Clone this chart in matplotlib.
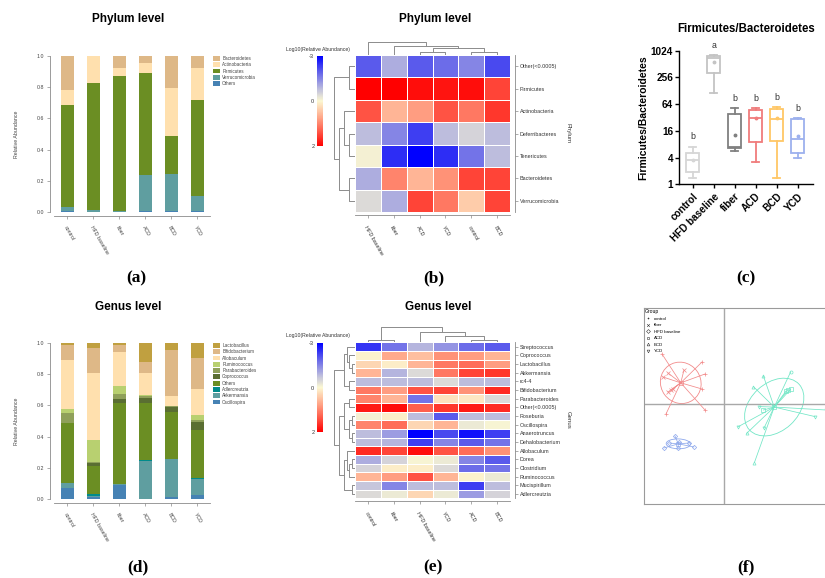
import matplotlib
matplotlib.use('Agg')
import matplotlib.pyplot as plt
import numpy as np
from matplotlib.colors import LinearSegmentedColormap, TwoSlopeNorm
from matplotlib.patches import Ellipse, Patch
from matplotlib.lines import Line2D

plt.rcParams['font.family'] = ['Liberation Sans', 'DejaVu Sans']

# ---------------- data ----------------
groups = ['control', 'HFD baseline', 'fiber', 'ACD', 'BCD', 'YCD']

# (a) phylum relative abundance (stacked bottom -> top)
phylum_names = ['Others', 'Verrucomicrobia', 'Firmicutes', 'Actinobacteria', 'Bacteroidetes']
phylum_colors = ['#4682B4', '#5F9EA0', '#6B8E23', '#FFE0AE', '#DEB887']
ph_others = [0.005, 0.003, 0.002, 0.005, 0.005, 0.005]
ph_verruco = [0.030, 0.007, 0.003, 0.235, 0.240, 0.100]
ph_firmicutes = [0.650, 0.815, 0.870, 0.650, 0.245, 0.610]
ph_actino = [0.095, 0.175, 0.050, 0.068, 0.305, 0.210]
ph_bactero = [0.220, 0.000, 0.075, 0.042, 0.205, 0.075]

# (d) genus relative abundance (stacked bottom -> top)
genus_names = ['Oscillospira', 'Akkermansia', 'Adlercreutzia', 'Others', 'Coprococcus',
               'Parabacteroides', 'Ruminococcus', 'Allobaculum', 'Bifidobacterium', 'Lactobacillus']
genus_colors = ['#4682B4', '#5F9EA0', '#008B8B', '#6B8E23', '#5A6E32',
                '#8FA05A', '#B8D070', '#FFE0AE', '#DEB887', '#C0A040']
ge_osc = [0.070, 0.015, 0.090, 0.003, 0.010, 0.025]
ge_akk = [0.030, 0.005, 0.005, 0.242, 0.245, 0.105]
ge_adler = [0.005, 0.010, 0.002, 0.002, 0.003, 0.005]
ge_others = [0.380, 0.180, 0.518, 0.368, 0.297, 0.305]
ge_copro = [0.005, 0.020, 0.025, 0.035, 0.035, 0.055]
ge_parab = [0.060, 0.005, 0.035, 0.010, 0.005, 0.010]
ge_rumino = [0.025, 0.145, 0.050, 0.005, 0.002, 0.035]
ge_allob = [0.315, 0.430, 0.215, 0.145, 0.063, 0.165]
ge_bifido = [0.095, 0.160, 0.045, 0.070, 0.295, 0.200]
ge_lacto = [0.015, 0.030, 0.015, 0.120, 0.045, 0.095]

# (b) phylum heatmap
hb_rows = ['Other(<0.0005)', 'Firmicutes', 'Actinobacteria', 'Deferribacteres',
           'Tenericutes', 'Bacteroidetes', 'Verrucomicrobia']
hb_cols = ['HFD baseline', 'fiber', 'ACD', 'YCD', 'control', 'BCD']
hb_vals = [[-2.0, -1.0, -2.0, -1.8, -1.5, -2.2],
           [2.0, 2.0, 1.9, 1.85, 1.9, 1.5],
           [1.4, 0.6, 0.8, 1.4, 1.1, 1.6],
           [-0.8, -1.5, -2.3, -0.8, -0.5, -0.8],
           [-0.1, -2.5, -3.0, -2.5, -1.7, -0.8],
           [-1.0, 1.0, 0.6, 0.9, 1.5, 1.5],
           [-0.4, -1.0, 1.5, 1.1, 0.4, 1.5]]
hb_row_merges = [(0, 1, 1.0), (3, 4, 1.0), (5, 6, 1.0), (2, 8, 1.83), (10, 9, 2.67), (7, 11, 3.5)]
hb_col_merges = [(2, 3, 1.0), (4, 5, 1.0), (6, 7, 2.0), (1, 8, 2.8), (0, 9, 4.0)]

# (e) genus heatmap
he_rows = ['Streptococcus', 'Coprococcus', 'Lactobacillus', 'Akkermansia', 'rc4-4',
           'Bifidobacterium', 'Parabacteroides', 'Other(<0.0005)', 'Roseburia', 'Oscillospira',
           'Anaerotruncus', 'Dehalobacterium', 'Allobaculum', 'Dorea', 'Clostridium',
           'Ruminococcus', 'Mucispirillum', 'Adlercreutzia']
he_cols = ['control', 'fiber', 'HFD baseline', 'YCD', 'ACD', 'BCD']
he_vals = [[-2.4, -1.7, -0.9, -1.3, -1.8, -2.0],
           [0.05, 0.7, 0.5, 0.9, 0.8, 0.6],
           [0.3, 0.1, 0.6, 1.1, 1.2, 0.8],
           [0.6, -0.9, -0.4, 1.1, 1.5, 1.6],
           [-0.8, -0.8, -0.8, -0.4, -0.8, -0.8],
           [1.1, 0.8, 1.4, 1.5, 0.9, 1.7],
           [1.0, 0.6, -1.7, 0.2, 0.15, -0.4],
           [1.8, 1.9, 1.3, 1.6, 1.8, 1.7],
           [-0.1, 0.1, -0.8, -2.0, -0.8, -0.8],
           [1.0, 1.2, 0.3, 0.6, -0.2, -0.05],
           [-0.8, -1.2, -3.0, -2.2, -2.8, -2.3],
           [-0.8, -0.9, -2.3, -1.5, -2.0, -1.7],
           [1.7, 1.5, 1.9, 1.4, 1.2, 0.9],
           [-1.0, -0.5, -0.05, -0.2, -1.5, -2.0],
           [-0.5, 0.1, 0.1, -0.4, -1.8, -1.7],
           [0.6, 0.8, 1.4, 0.6, 0.05, -0.2],
           [-0.7, -1.5, -0.8, -0.8, -2.3, -0.8],
           [-0.4, -0.2, 0.3, -0.2, -1.2, -0.5]]
he_row_merges = [(2, 3, 0.56), (1, 18, 1.0), (0, 19, 1.3), (4, 5, 1.0), (20, 21, 1.83),
                 (6, 7, 1.0), (8, 9, 0.56), (10, 11, 0.56), (24, 25, 1.0), (23, 26, 1.83),
                 (13, 14, 0.56), (28, 15, 1.0), (12, 29, 1.3), (16, 17, 0.56), (30, 31, 1.83),
                 (27, 32, 2.67), (22, 33, 3.5)]
he_col_merges = [(0, 1, 0.8), (4, 5, 0.7), (3, 7, 2.0), (2, 8, 3.0), (6, 9, 4.5)]

# (c) Firmicutes/Bacteroidetes box statistics
fb_groups = ['control', 'HFD baseline', 'fiber', 'ACD', 'BCD', 'YCD']
fb_whislo = [1.4, 112, 5.7, 3.1, 1.4, 4.0]
fb_q1 = [1.9, 330, 6.5, 8.8, 9.5, 5.0]
fb_med = [3.5, 700, 6.8, 31, 30, 10.3]
fb_q3 = [5.0, 780, 38, 48, 50, 30]
fb_whishi = [7.0, 820, 52, 52, 55, 31]
fb_mean = [3.5, 560, 13, 31, 32, 12]
fb_letters = ['b', 'a', 'b', 'b', 'b', 'b']
fb_colors = ['#D6D6D6', '#C4C4C4', '#808080', '#F07C7C', '#FFC766', '#9DB1EE']

# (f) ordination scores
pc_legend = ['control', 'fiber', 'HFD baseline', 'ACD', 'BCD', 'YCD']
pc_legend_markers = ['+', 'x', 'D', 's', '^', 'v']
red_x = [-0.31, -0.11, -0.095, -0.11, -0.095, -0.29, -0.305, -0.28, -0.20, -0.28, -0.265, -0.255]
red_y = [0.25, 0.21, 0.15, 0.075, -0.03, -0.05, 0.135, 0.155, 0.17, 0.06, 0.07, 0.075]
red_m = ['+', '+', '+', '+', '+', '+', 'x', 'x', 'x', 'x', 'x', 'x']
blue_x = [-0.245, -0.30, -0.15, -0.23, -0.175, -0.275, -0.225]
blue_y = [-0.16, -0.22, -0.215, -0.22, -0.195, -0.195, -0.19]
blue_m = ['D'] * 7
cyan_x = [0.333, 0.197, 0.147, 0.32, 0.31, 0.333, 0.177, 0.51, 0.455, 0.072, 0.113, 0.2, 0.152, 0.197]
cyan_y = [0.16, 0.14, 0.087, 0.07, 0.065, 0.073, -0.013, -0.03, -0.063, -0.113, -0.147, -0.12, -0.293, -0.03]
cyan_m = ['o', '^', '^', 's', 's', 's', 'v', 'v', 'v', 'v', '^', 'v', '^', 's']

# ---------------- layout helpers ----------------
W, H = 825, 578


def R(l, t, r, b):
    return [l / W, 1 - b / H, (r - l) / W, (b - t) / H]


def PX(x, y):
    return (x / W, 1 - y / H)


fig = plt.figure(figsize=(8.25, 5.78), dpi=100)

spine_grey = '#8a8a8a'
text_grey = '#444444'


def stacked(rect, names, colors, series, title, title_y, leg_top):
    ax = fig.add_axes(R(*rect))
    x = np.arange(len(groups))
    bottom = np.zeros(len(groups))
    handles = []
    for name, col, vals in zip(names, colors, series):
        vals = np.asarray(vals)
        ax.bar(x, vals, 0.5, bottom=bottom, color=col, edgecolor='none')
        bottom += vals
        handles.append(Patch(facecolor=col, edgecolor='none', label=name))
    ax.set_xlim(-0.5, 5.5)
    ax.set_ylim(0, 1)
    for s in ['top', 'right']:
        ax.spines[s].set_visible(False)
    for s in ['left', 'bottom']:
        ax.spines[s].set_color(spine_grey)
        ax.spines[s].set_linewidth(0.6)
    ax.spines['left'].set_position(('outward', 3))
    ax.spines['bottom'].set_position(('outward', 3))
    ax.set_yticks([0, 0.2, 0.4, 0.6, 0.8, 1.0])
    ax.set_yticklabels(['0.0', '0.2', '0.4', '0.6', '0.8', '1.0'])
    ax.set_xticks(x)
    ax.set_xticklabels(groups, rotation=-60, ha='left', va='top', rotation_mode='anchor')
    ax.tick_params(axis='both', labelsize=3.8, colors=spine_grey, labelcolor=text_grey,
                   length=2.5, width=0.5, pad=2)
    ax.tick_params(axis='x', pad=4)
    handles = handles[::-1]
    fig.legend(handles=handles, loc='upper left', bbox_to_anchor=PX(213, leg_top),
               frameon=False, fontsize=3.3, handlelength=1.6, handleheight=1.25,
               labelspacing=0.28, borderaxespad=0, borderpad=0, handletextpad=0.4,
               labelcolor=text_grey)
    fig.text(*PX(128, title_y), title, ha='center', va='center', fontsize=8.5,
             fontweight='bold')
    fig.text(*PX(16, (rect[1] + rect[3]) / 2), 'Relative Abundance', rotation=90,
             ha='center', va='center', fontsize=3.8, color=text_grey)
    return ax


stacked((54.5, 56, 210.5, 212), phylum_names, phylum_colors,
        [ph_others, ph_verruco, ph_firmicutes, ph_actino, ph_bactero],
        'Phylum level', 19, 56)
stacked((54.5, 343, 210.5, 499), genus_names, genus_colors,
        [ge_osc, ge_akk, ge_adler, ge_others, ge_copro, ge_parab, ge_rumino,
         ge_allob, ge_bifido, ge_lacto],
        'Genus level', 307, 343)

# ---------------- heatmaps ----------------
cmap = LinearSegmentedColormap.from_list('hm', [
    (0.0, '#0000FF'), (0.18, '#6262EA'), (0.38, '#C4C4DC'), (0.5, '#FCF8D2'),
    (0.68, '#FFA88A'), (0.85, '#FF5444'), (1.0, '#FF0000')])
norm = TwoSlopeNorm(vmin=-3, vcenter=0, vmax=2)


def dendro(ax, merges, n, orient):
    pos = {i: i + 0.5 for i in range(n)}
    hgt = {i: 0.0 for i in range(n)}
    node = n
    for a, b, h in merges:
        pa, pb = pos[a], pos[b]
        xs = [pa, pa, pb, pb]
        ys = [hgt[a], h, h, hgt[b]]
        if orient == 'top':
            ax.plot(xs, ys, color='#8c8c8c', lw=0.7, solid_capstyle='butt')
        else:
            ax.plot(ys, xs, color='#8c8c8c', lw=0.7, solid_capstyle='butt')
        pos[node] = (pa + pb) / 2
        hgt[node] = h
        node += 1
    ax.axis('off')
    return max(hgt.values())


def heatmap(cells, vals, rows, cols, row_merges, col_merges, top_y, left_x,
            cbar_rect, ylab, title, title_xy):
    l, t, r, b = cells
    ax = fig.add_axes(R(l, t, r, b))
    arr = np.array(vals)
    m = ax.pcolormesh(np.arange(len(cols) + 1), np.arange(len(rows) + 1), arr,
                      cmap=cmap, norm=norm, edgecolors='white', linewidth=0.5)
    ax.set_xlim(0, len(cols))
    ax.set_ylim(len(rows), 0)
    ax.spines['top'].set_visible(False)
    ax.spines['left'].set_visible(False)
    ax.spines['right'].set_position(('outward', 3.5))
    ax.spines['bottom'].set_position(('outward', 2.2))
    for s in ['right', 'bottom']:
        ax.spines[s].set_color(spine_grey)
        ax.spines[s].set_linewidth(0.6)
    ax.yaxis.tick_right()
    ax.set_yticks(np.arange(len(rows)) + 0.5)
    ax.set_yticklabels(rows)
    ax.set_xticks(np.arange(len(cols)) + 0.5)
    ax.set_xticklabels(cols, rotation=-60, ha='left', va='top', rotation_mode='anchor')
    ax.tick_params(axis='both', labelsize=3.9, colors=spine_grey, labelcolor='#333333',
                   length=2, width=0.5, pad=1.5)
    ax.tick_params(axis='x', pad=5)
    # dendrograms
    axt = fig.add_axes(R(l, top_y, r, t))
    hmax = dendro(axt, col_merges, len(cols), 'top')
    axt.set_xlim(0, len(cols))
    axt.set_ylim(0, hmax)
    axl = fig.add_axes(R(left_x, t, l, b))
    hmax = dendro(axl, row_merges, len(rows), 'left')
    axl.set_xlim(hmax, 0)
    axl.set_ylim(len(rows), 0)
    # colorbar
    cax = fig.add_axes(R(*cbar_rect))
    cb = fig.colorbar(m, cax=cax, ticks=[-3, 0, 2])
    cb.outline.set_visible(False)
    cax.invert_yaxis()
    cax.yaxis.set_ticks_position('left')
    cax.tick_params(labelsize=4, length=0, pad=2, labelcolor='#333333')
    cax.set_yticklabels(['-3', '0', '2'])
    fig.text(*PX(cbar_rect[0] + 1, cbar_rect[1] - 7), 'Log10(Relative Abundance)',
             ha='center', va='center', fontsize=3.7, color='#333333')
    fig.text(*PX(568, (t + b) / 2), ylab, rotation=-90, ha='center', va='center',
             fontsize=4.3, color='#333333')
    fig.text(*PX(*title_xy), title, ha='center', va='center', fontsize=8.5,
             fontweight='bold')


heatmap((355, 55, 510, 212), hb_vals, hb_rows, hb_cols, hb_row_merges, hb_col_merges,
        41.5, 334, (317, 56, 323, 146), 'Phylum', 'Phylum level', (435, 19))
heatmap((355, 342.3, 510, 498.3), he_vals, he_rows, he_cols, he_row_merges, he_col_merges,
        327.3, 334, (317, 343, 323, 432), 'Genus', 'Genus level', (438, 307))

# ---------------- (c) boxplot ----------------
axc = fig.add_axes(R(679.3, 50.7, 813, 184.3))
stats = []
for i in range(len(fb_groups)):
    stats.append(dict(med=fb_med[i], q1=fb_q1[i], q3=fb_q3[i], whislo=fb_whislo[i],
                      whishi=fb_whishi[i], mean=fb_mean[i], fliers=[], label=fb_groups[i]))
axc.set_yscale('log', base=2)
pos = np.arange(len(fb_groups))
bp = axc.bxp(stats, positions=pos, widths=0.62, showmeans=True, patch_artist=True,
             showcaps=True, manage_ticks=False)
for i, col in enumerate(fb_colors):
    bp['boxes'][i].set(facecolor='white', edgecolor=col, linewidth=1.3)
    bp['medians'][i].set(color=col, linewidth=1.3)
    for k in (2 * i, 2 * i + 1):
        bp['whiskers'][k].set(color=col, linewidth=1.3)
        bp['caps'][k].set(color=col, linewidth=1.3)
    bp['means'][i].set(marker='o', markersize=1.8, markerfacecolor=col,
                       markeredgecolor=col)
    for cap in (bp['caps'][2 * i], bp['caps'][2 * i + 1]):
        cap.set_xdata([i - 0.16, i + 0.16])
for i, let in enumerate(fb_letters):
    axc.text(pos[i], fb_whishi[i] * 1.32, let, ha='center', va='bottom', fontsize=6.3,
             color='#333333')
axc.set_ylim(1, 1024)
axc.set_xlim(-0.64, 5.73)
axc.set_yticks([1, 4, 16, 64, 256, 1024])
axc.set_yticklabels(['1', '4', '16', '64', '256', '1024'], fontweight='bold')
axc.yaxis.set_minor_locator(matplotlib.ticker.NullLocator())
axc.set_xticks(pos)
axc.set_xticklabels(fb_groups, rotation=45, ha='right', va='top', rotation_mode='anchor',
                    fontweight='bold')
axc.tick_params(axis='both', labelsize=7.2, length=3, width=1, pad=1.5)
axc.tick_params(axis='x', pad=2)
for s in ['top', 'right']:
    axc.spines[s].set_visible(False)
for s in ['left', 'bottom']:
    axc.spines[s].set_linewidth(1)
axc.set_ylabel('Firmicutes/Bacteroidetes', fontsize=7.5, fontweight='bold', labelpad=2)
fig.text(*PX(745.7, 29), 'Firmicutes/Bacteroidetes', ha='center', va='center',
         fontsize=8.3, fontweight='bold')

# ---------------- (f) ordination ----------------
axf = fig.add_axes(R(644, 308, 835, 504))
axf.set_xlim(-0.40, 0.555)
axf.set_ylim(-0.50, 0.48)
axf.set_xticks([])
axf.set_yticks([])
for s in axf.spines.values():
    s.set_color('#9a9a9a')
    s.set_linewidth(0.8)
axf.axvline(0, color='#a8a8a8', lw=1.0)
axf.axhline(0, color='#a8a8a8', lw=1.0)


def spider(xs, ys, ms, col, k):
    xs = np.asarray(xs)
    ys = np.asarray(ys)
    cx, cy = xs.mean(), ys.mean()
    for x, y, m in zip(xs, ys, ms):
        axf.plot([cx, x], [cy, y], color=col, lw=0.55)
        axf.plot([x], [y], marker=m, color=col, markersize=2.2, markeredgewidth=0.5,
                 fillstyle='none', linestyle='none')
    cov = np.cov(xs, ys)
    ev, evec = np.linalg.eigh(cov)
    ang = np.degrees(np.arctan2(evec[1, 1], evec[0, 1]))
    axf.add_patch(Ellipse((cx, cy), 2 * k * np.sqrt(ev[1]), 2 * k * np.sqrt(ev[0]),
                          angle=ang, fill=False, edgecolor=col, lw=0.6))
    axf.plot([cx], [cy], marker='s', color=col, markersize=3, fillstyle='none',
             markeredgewidth=0.5, linestyle='none')


spider(red_x, red_y, red_m, '#F28A8A', 1.15)
spider(blue_x, blue_y, blue_m, '#8EA8EC', 1.15)
spider(cyan_x, cyan_y, cyan_m, '#72E6C6', 1.15)

leg_handles = [Line2D([], [], marker=m, color='#333333', linestyle='none', markersize=2,
                      markeredgewidth=0.4, fillstyle='none', label=lab)
               for m, lab in zip(pc_legend_markers, pc_legend)]
lg = axf.legend(handles=leg_handles, title='Group', loc='upper left', frameon=False,
                fontsize=3.2, title_fontsize=3.6, borderaxespad=0.15, borderpad=0.1,
                labelspacing=0.55, handlelength=1.2, handletextpad=0.8,
                alignment='left')

# ---------------- panel labels ----------------
for lab, x, y in [('(a)', 136, 278), ('(b)', 434, 278), ('(c)', 746, 278),
                  ('(d)', 138, 567), ('(e)', 433, 567), ('(f)', 746, 567)]:
    fig.text(*PX(x, y), lab, ha='center', va='center', fontsize=12.5,
             family='Liberation Serif', fontweight='bold')

fig.savefig('out.png', dpi=100)
